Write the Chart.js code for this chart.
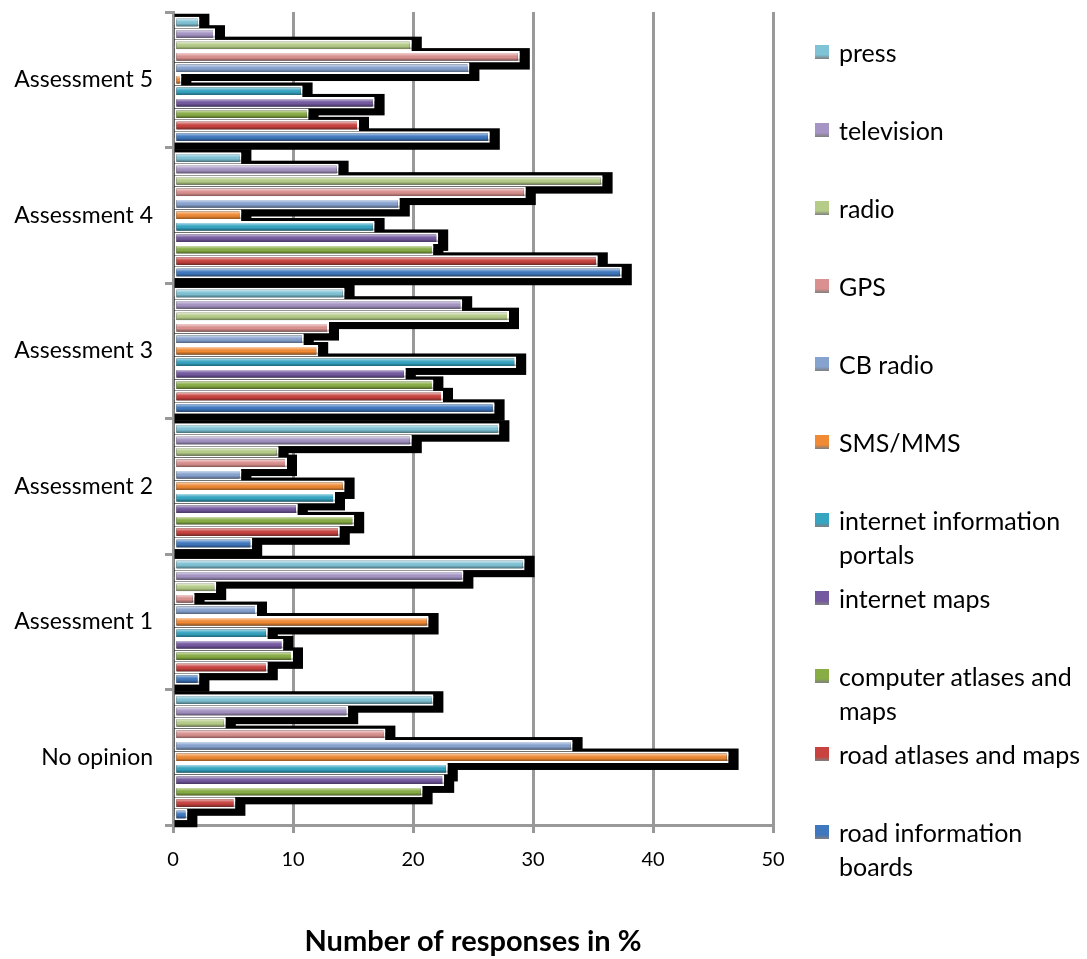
<!DOCTYPE html>
<html>
<head>
<meta charset="utf-8">
<script src="https://cdn.jsdelivr.net/npm/chart.js@4"></script>
<style>
  body { margin: 0; background: #fff; font-family: Lato, sans-serif; }
  #wrap { position: relative; width: 1087px; height: 959px; }
  #legend { position: absolute; left: 815px; top: 0; }
  .item { position: absolute; left: 0; width: 272px; display: flex; align-items: flex-start;
          font-size: 25px; line-height: 34px; color: #000; }
  .box { width: 14px; height: 14px; margin-top: 10px; margin-right: 10px; flex: none; }
</style>
</head>
<body>
<div id="wrap">
  <canvas id="c" width="1087" height="959"></canvas>
  <div id="legend"></div>
</div>
<script>
// categories, bottom to top
const categories = ['No opinion', 'Assessment 1', 'Assessment 2', 'Assessment 3', 'Assessment 4', 'Assessment 5'];

// values in % per category (same order as categories)
const roadBoards      = [1.2, 2.2, 6.6, 26.8, 37.4, 26.4];
const roadAtlases     = [5.2, 7.9, 13.9, 22.5, 35.4, 15.5];
const computerAtlases = [20.8, 10.0, 15.1, 21.7, 21.7, 11.3];
const internetMaps    = [22.6, 9.2, 10.4, 19.4, 22.1, 16.8];
const internetPortals = [22.9, 7.9, 13.5, 28.6, 16.8, 10.8];
const smsMms          = [46.3, 21.3, 14.3, 12.1, 5.7, 0.7];
const cbRadio         = [33.3, 7.0, 5.7, 10.9, 18.9, 24.7];
const gps             = [17.7, 1.8, 9.5, 13.0, 29.4, 28.9];
const radio           = [4.4, 3.6, 8.8, 28.0, 35.8, 19.9];
const television      = [14.6, 24.2, 19.9, 24.1, 13.8, 3.5];
const press           = [21.7, 29.3, 27.2, 14.3, 5.7, 2.2];

const xTicks = [0, 10, 20, 30, 40, 50];

// legend order (top to bottom) = dataset order
const seriesNames = ['press', 'television', 'radio', 'GPS', 'CB radio', 'SMS/MMS',
  'internet information portals', 'internet maps', 'computer atlases and maps',
  'road atlases and maps', 'road information boards'];
const seriesValues = [press, television, radio, gps, cbRadio, smsMms,
  internetPortals, internetMaps, computerAtlases, roadAtlases, roadBoards];
const seriesColors = ['#7fc3d6', '#a594c4', '#b5cc88', '#d9908e', '#86a2cf', '#f08a34',
  '#36a5c2', '#7459a0', '#88ad45', '#c8433f', '#3f78bf'];

// black drop shadow under bars + glossy highlight on top
const barFx = {
  id: 'barFx',
  beforeDatasetsDraw(chart) {
    const ctx = chart.ctx;
    ctx.save();
    ctx.fillStyle = '#000';
    chart.data.datasets.forEach((ds, i) => {
      chart.getDatasetMeta(i).data.forEach(bar => {
        const p = bar.getProps(['x', 'y', 'base', 'height'], true);
        const top = p.y - p.height / 2;
        ctx.fillRect(p.base, top - 3, p.x - p.base + 10, p.height + 10);
      });
    });
    ctx.restore();
  },
  afterDatasetsDraw(chart) {
    const ctx = chart.ctx;
    ctx.save();
    chart.data.datasets.forEach((ds, i) => {
      chart.getDatasetMeta(i).data.forEach(bar => {
        const p = bar.getProps(['x', 'y', 'base', 'height'], true);
        const top = p.y - p.height / 2 + 2;
        const h = p.height - 4;
        const w = p.x - p.base - 2;
        if (w <= 0) return;
        const g = ctx.createLinearGradient(0, top, 0, top + h);
        g.addColorStop(0, 'rgba(255,255,255,0.6)');
        g.addColorStop(0.35, 'rgba(255,255,255,0.1)');
        g.addColorStop(0.6, 'rgba(0,0,0,0)');
        g.addColorStop(1, 'rgba(0,0,0,0.4)');
        ctx.fillStyle = g;
        ctx.fillRect(p.base + 2, top, w, h);
      });
    });
    ctx.restore();
  }
};

new Chart(document.getElementById('c'), {
  type: 'bar',
  data: {
    labels: categories,
    datasets: seriesNames.map((name, i) => ({
      label: name,
      data: seriesValues[i],
      backgroundColor: seriesColors[i],
      borderColor: '#fff',
      borderWidth: 2,
      borderSkipped: false,
      barPercentage: 1.0,
      categoryPercentage: 0.93
    }))
  },
  options: {
    indexAxis: 'y',
    responsive: false,
    animation: false,
    layout: { padding: { top: 12, right: 314, left: 0, bottom: 0 } },
    plugins: { legend: { display: false }, tooltip: { enabled: false } },
    scales: {
      y: {
        reverse: true,
        afterFit: s => { s.width = 173; s.paddingTop = 0; s.paddingBottom = 0; },
        grid: { drawOnChartArea: false, color: '#999', lineWidth: 3, tickLength: 8, offset: true },
        border: { color: '#999', width: 3 },
        ticks: { color: '#000', font: { family: 'Lato', size: 23 }, padding: 12 }
      },
      x: {
        min: 0,
        max: 50,
        afterFit: s => { s.height = 134; },
        afterBuildTicks: s => { s.ticks = xTicks.map(v => ({ value: v })); },
        grid: { color: '#999', lineWidth: 3, tickLength: 8 },
        border: { color: '#999', width: 3 },
        ticks: { color: '#000', font: { family: 'Lato', size: 20 }, padding: 15 },
        title: {
          display: true,
          text: 'Number of responses in %',
          color: '#000',
          font: { family: 'Lato', size: 29, weight: 'bold' },
          padding: { top: 0, bottom: 0 }
        }
      }
    }
  },
  plugins: [barFx]
});

// legend on the right
const legend = document.getElementById('legend');
seriesNames.forEach((name, i) => {
  const item = document.createElement('div');
  item.className = 'item';
  item.style.top = (35 + 78 * i) + 'px';
  const box = document.createElement('span');
  box.className = 'box';
  box.style.background = 'linear-gradient(' + seriesColors[i] + ' 0%, ' + seriesColors[i] + ' 70%, rgba(0,0,0,0.5) 100%)';
  const txt = document.createElement('span');
  txt.textContent = name;
  item.appendChild(box);
  item.appendChild(txt);
  legend.appendChild(item);
});
</script>
</body>
</html>
